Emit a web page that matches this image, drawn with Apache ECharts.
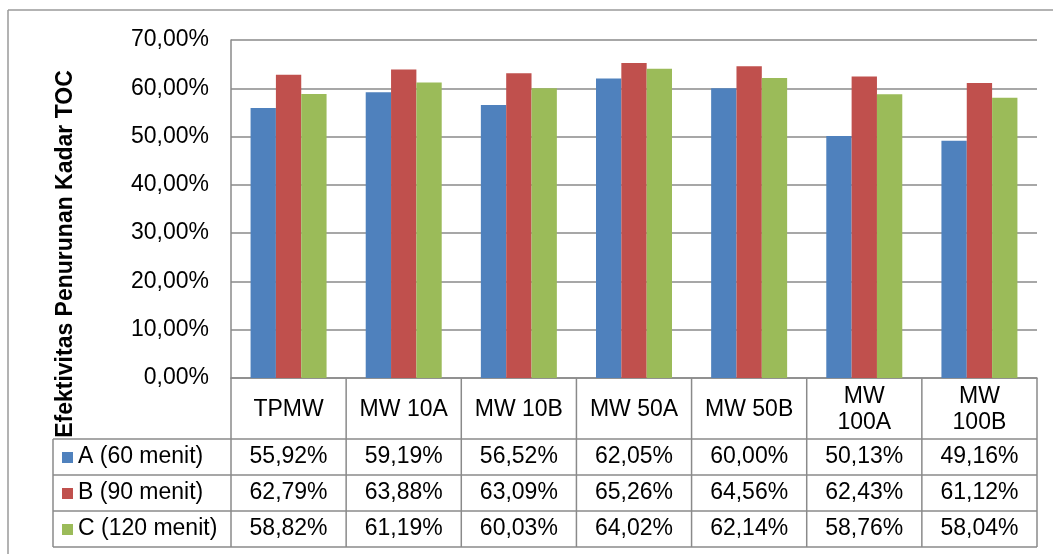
<!DOCTYPE html>
<html>
<head>
<meta charset="utf-8">
<script src="https://cdn.jsdelivr.net/npm/echarts@6/dist/echarts.min.js"></script>
<style>
  html, body { margin: 0; padding: 0; background: #fff; }
  #chart { width: 1053px; height: 554px; }
</style>
</head>
<body>
<div id="chart"></div>
<script>
// data
const categories = ["TPMW", "MW 10A", "MW 10B", "MW 50A", "MW 50B", "MW\n100A", "MW\n100B"];
const seriesNames = ["A (60 menit)", "B (90 menit)", "C (120 menit)"];
const seriesA = [55.92, 59.19, 56.52, 62.05, 60.00, 50.13, 49.16];
const seriesB = [62.79, 63.88, 63.09, 65.26, 64.56, 62.43, 61.12];
const seriesC = [58.82, 61.19, 60.03, 64.02, 62.14, 58.76, 58.04];
const yTicks = [0, 10, 20, 30, 40, 50, 60, 70];
const yTitle = "Efektivitas Penurunan Kadar TOC";

const colors = ["#4F81BD", "#C0504D", "#9BBB59"];
const lineColor = "#8a8a8a";
const font = "'Liberation Sans', Arial, sans-serif";
const fmt = v => v.toFixed(2).replace(".", ",") + "%";

const chart = echarts.init(document.getElementById("chart"));

const option = {
  animation: false,
  backgroundColor: "#fff",
  grid: { left: 231, right: 16, top: 40, bottom: 176 },
  xAxis: {
    type: "category",
    data: categories,
    axisLine: { show: true, lineStyle: { color: lineColor, width: 1.5 } },
    axisTick: { show: false },
    axisLabel: { show: false }
  },
  yAxis: {
    type: "value",
    min: yTicks[0],
    max: yTicks[yTicks.length - 1],
    interval: 10,
    axisLine: { show: true, lineStyle: { color: lineColor, width: 1.5 } },
    axisTick: { show: false },
    splitLine: { lineStyle: { color: lineColor, width: 1.5 } },
    axisLabel: {
      color: "#000",
      fontSize: 23,
      fontFamily: font,
      margin: 22,
      formatter: v => fmt(v)
    }
  },
  series: [seriesA, seriesB, seriesC].map((d, i) => ({
    name: seriesNames[i],
    type: "bar",
    data: d,
    barGap: "0%",
    barCategoryGap: "34%",
    itemStyle: { color: colors[i] }
  }))
};
chart.setOption(option);

// data table under the plot, placed from the axis scales
const drawTable = () => {
  const c0 = chart.convertToPixel({ xAxisIndex: 0 }, categories[0]);
  const c1 = chart.convertToPixel({ xAxisIndex: 0 }, categories[1]);
  const band = c1 - c0;
  const xLeft = c0 - band / 2;
  const xRight = xLeft + band * categories.length;
  const y0 = chart.convertToPixel({ yAxisIndex: 0 }, 0);
  const headH = 61;
  const rowH = 36;
  const legendLeft = 53;
  const yRows = [y0 + headH, y0 + headH + rowH, y0 + headH + rowH * 2, y0 + headH + rowH * 3];
  const yBottom = yRows[3];

  const els = [];
  const line = (x1, y1, x2, y2, color, w) => els.push({
    type: "line",
    shape: { x1, y1, x2, y2 },
    style: { stroke: color || lineColor, lineWidth: w || 1.5 }
  });

  // outer chart border
  line(8, 10, 1053, 10, "#9a9a9a", 1.5);
  line(8, 10, 8, 554, "#9a9a9a", 1.5);

  // horizontal rules
  yRows.forEach(y => line(legendLeft, y, xRight, y));
  // vertical rules
  line(xLeft, y0, xLeft, yBottom);
  line(legendLeft, yRows[0], legendLeft, yBottom);
  for (let i = 1; i <= categories.length; i++) {
    const x = xLeft + band * i;
    line(x, y0, x, yBottom);
  }

  const text = (x, y, str, opts) => els.push({
    type: "text",
    x, y,
    style: Object.assign({
      text: str,
      fill: "#000",
      font: "23px " + font,
      align: "center",
      verticalAlign: "middle",
      lineHeight: 26
    }, opts || {})
  });

  // header row
  categories.forEach((cat, i) => {
    text(xLeft + band * (i + 0.5), y0 + headH / 2 + 1, cat);
  });

  // data rows with legend keys
  [seriesA, seriesB, seriesC].forEach((d, r) => {
    const yc = yRows[r] + rowH / 2;
    els.push({
      type: "rect",
      shape: { x: 62, y: yc - 5, width: 11, height: 11 },
      style: { fill: colors[r] }
    });
    text(78, yc, seriesNames[r], { align: "left" });
    d.forEach((v, i) => text(xLeft + band * (i + 0.5), yc, fmt(v)));
  });

  // axis title
  els.push({
    type: "text",
    x: 66, y: 254,
    rotation: Math.PI / 2,
    style: {
      text: yTitle,
      fill: "#000",
      font: "bold 23px " + font,
      align: "center",
      verticalAlign: "middle"
    }
  });

  chart.setOption({ graphic: { elements: els } });
};
drawTable();
</script>
</body>
</html>
